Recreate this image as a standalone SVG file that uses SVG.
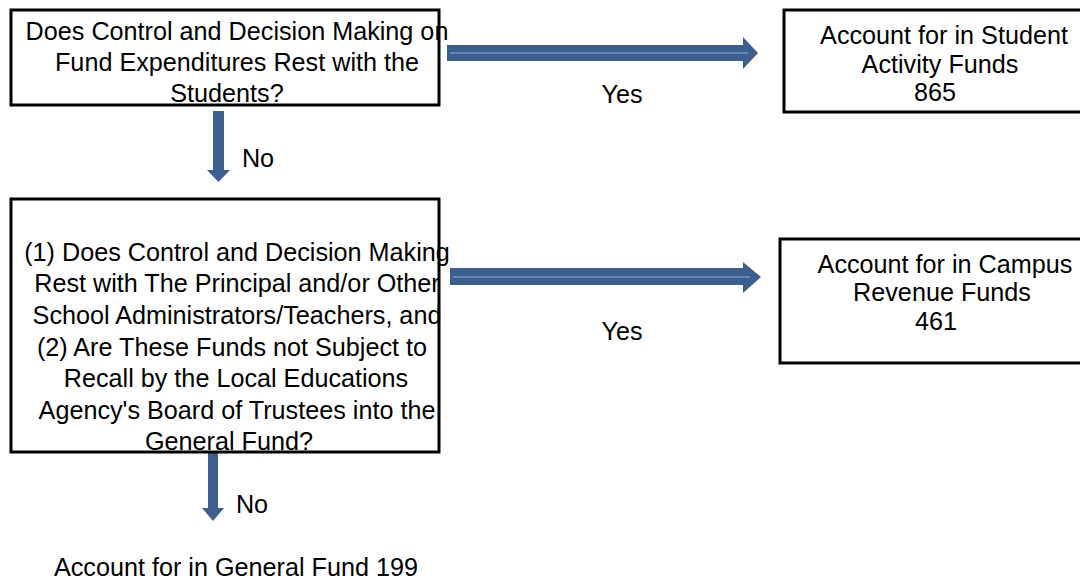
<svg xmlns="http://www.w3.org/2000/svg" width="1080" height="580" viewBox="0 0 1080 580">
<style>
.box{fill:#fff;stroke:#000;stroke-width:3}
.t{font-family:"Liberation Sans",Arial,sans-serif;font-size:25.2px;fill:#000;text-anchor:middle}
.arr{fill:#3C5F8E}
.hl{stroke:#5C89C2;stroke-width:2;fill:none}
</style>
<rect width="1080" height="580" fill="#fff"/>
<g id="connectors">
<polygon class="arr" points="447,45 743,45 743,37 758,53 743,69 743,61 447,61"/>
<line class="hl" x1="450" y1="53" x2="748" y2="53"/>
<polygon class="arr" points="450,268 743,268 743,262 761,277 743,293 743,285 450,285"/>
<line class="hl" x1="453" y1="277" x2="750" y2="277"/>
<polygon class="arr" points="213,111 224,111 224,170 230,170 218.5,182 207,170 213,170"/>
<polygon class="arr" points="208,451 218,451 218,508 224,508 213,521 202,508 208,508"/>
<text class="t" x="622" y="103">Yes</text>
<text class="t" x="622" y="340">Yes</text>
<text class="t" x="258" y="167">No</text>
<text class="t" x="252" y="513">No</text>
</g>
<g id="q1">
<rect class="box" x="11" y="10" width="428" height="95"/>
<text class="t" x="237" y="40">Does Control and Decision Making on</text>
<text class="t" x="237" y="71">Fund Expenditures Rest with the</text>
<text class="t" x="227" y="102">Students?</text>
</g>
<g id="student">
<rect class="box" x="784" y="10" width="310" height="102"/>
<text class="t" x="944" y="44">Account for in Student</text>
<text class="t" x="940" y="73">Activity Funds</text>
<text class="t" x="935" y="101">865</text>
</g>
<g id="q2">
<rect class="box" x="11" y="199" width="428" height="253"/>
<text class="t" x="237" y="261">(1) Does Control and Decision Making</text>
<text class="t" x="237" y="292">Rest with The Principal and/or Other</text>
<text class="t" x="237" y="324">School Administrators/Teachers, and</text>
<text class="t" x="232" y="356">(2) Are These Funds not Subject to</text>
<text class="t" x="236" y="387">Recall by the Local Educations</text>
<text class="t" x="237" y="419">Agency's Board of Trustees into the</text>
<text class="t" x="229" y="450">General Fund?</text>
</g>
<g id="campus">
<rect class="box" x="780" y="239" width="310" height="124"/>
<text class="t" x="945" y="273">Account for in Campus</text>
<text class="t" x="942" y="301">Revenue Funds</text>
<text class="t" x="936" y="330">461</text>
</g>
<g id="general">
<text class="t" x="236" y="576">Account for in General Fund 199</text>
</g>
</svg>
